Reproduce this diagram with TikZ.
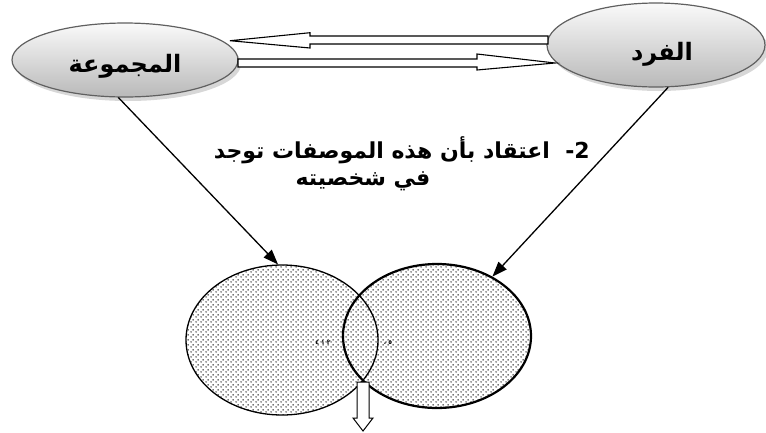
\documentclass[tikz,border=0pt]{standalone}
\usepackage{fontspec}
\newfontfamily\arabicfont[Script=Arabic]{DejaVu Sans}
\TeXXeTstate=1
\usetikzlibrary{shapes.geometric,arrows.meta,patterns}

% staggered dot texture for the two circles
\pgfdeclarepatternformonly{stagdots}{\pgfpointorigin}{\pgfqpoint{5pt}{5pt}}{\pgfqpoint{5pt}{5pt}}{
  \pgfpathcircle{\pgfqpoint{1.25pt}{1.25pt}}{0.95pt}
  \pgfpathcircle{\pgfqpoint{3.75pt}{3.75pt}}{0.95pt}
  \pgfusepath{fill}}

\tikzset{
  topnode/.style={ellipse, draw=gray!75!black, line width=1.2pt, inner sep=0pt,
    top color=gray!4, bottom color=gray!55},
  shade/.style={fill=gray!45, opacity=0.7},
  lbl/.style={font=\arabicfont\bfseries\fontsize{24}{28}\selectfont, inner sep=0pt},
  body/.style={font=\arabicfont\bfseries\fontsize{22}{26}\selectfont, inner sep=0pt},
  hollow/.style={draw=black, line width=1.1pt, fill=white, line join=miter},
  link/.style={draw=black, line width=1.3pt, -{Triangle[length=15pt,width=11pt]}},
  ring/.style={ellipse, draw=black, inner sep=0pt},
  tiny/.style={font=\arabicfont\bfseries\fontsize{6}{7}\selectfont, inner sep=0pt}
}

\begin{document}
\begin{tikzpicture}[x=1pt,y=-1pt]
\useasboundingbox (0,0) rectangle (766,432);

% soft shadows under the two top ellipses
\fill[shade] (128,64) ellipse [x radius=113, y radius=37];
\fill[shade] (659,49) ellipse [x radius=109, y radius=42];

% the two top ellipses
\node[topnode, minimum width=226pt, minimum height=74pt] (grp) at (125,60) {};
\node[topnode, minimum width=218pt, minimum height=84pt] (ind) at (656,45) {};
\node[lbl] (tgrp) at (125,66) {\beginR المجموعة\endR};
\node[lbl] (tind) at (662,54) {\beginR الفرد\endR};

% hollow arrow from the individual to the group
\draw[hollow] (230,40.7) -- (310,32.7) -- (310,36) -- (548,36) -- (548,44)
  -- (310,44) -- (310,48) -- cycle;
% hollow arrow from the group to the individual
\draw[hollow] (238,59) -- (477,59) -- (477,54) -- (555,63) -- (477,70)
  -- (477,67) -- (238,67) -- cycle;

% middle text
\node[body, anchor=east] (t1) at (590,150)
  {\beginR\beginL 2-\endL\ \ اعتقاد بأن هذه الموصفات توجد\endR};
\node[body] (t2) at (363,181) {\beginR في شخصيته\endR};

% dotted fill of the two overlapping circles
\fill[pattern=stagdots, pattern color=black!75]
  (282,340) ellipse [x radius=96, y radius=75]
  (437,336) ellipse [x radius=94, y radius=72];
\node[ring, line width=1.3pt, minimum width=192pt, minimum height=150pt] (c1) at (282,340) {};
\node[ring, line width=2.2pt, minimum width=188pt, minimum height=144pt] (c2) at (437,336) {};

% small marks in the centre
\node[tiny] (m1) at (323,343) {\beginR ٢ ١ ٤\endR};
\node[tiny] (m2) at (388,343) {\beginR ٥ ،\endR};

% links from the top ellipses down to the circles
\draw[link] (grp.-100) -- (c1.93);
\draw[link] (ind.-74) -- (c2.47);

% hollow arrow leaving the overlap
\draw[hollow, line width=1pt] (357,382) -- (369,382) -- (369,418) -- (373,418)
  -- (363,431) -- (353,418) -- (357,418) -- cycle;
\end{tikzpicture}
\end{document}
